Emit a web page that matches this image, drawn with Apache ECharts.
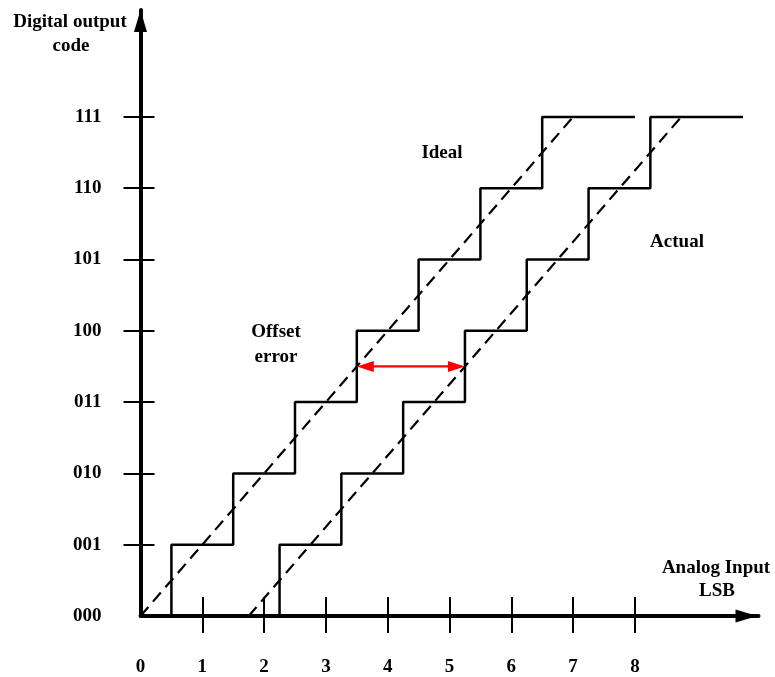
<!DOCTYPE html>
<html>
<head>
<meta charset="utf-8">
<script src="https://cdn.jsdelivr.net/npm/echarts@6/dist/echarts.min.js"></script>
<style>html,body{margin:0;padding:0;background:#fff}#c{width:775px;height:677px}</style>
</head>
<body>
<div id="c"></div>
<script>
// ---- data ----
var codeLabels = ['000', '001', '010', '011', '100', '101', '110', '111'];
var codeValues = [0, 1, 2, 3, 4, 5, 6, 7];
var xLabelValues = [0, 1, 2, 3, 4, 5, 6, 7, 8];
var xTickValues = [1, 2, 3, 4, 5, 6, 7, 8];
var yTickValues = [1, 2, 3, 4, 5, 6, 7];
var idealSteps = [0.5, 1.5, 2.5, 3.5, 4.5, 5.5, 6.5];
var idealEnd = 8;
var actualSteps = [2.25, 3.25, 4.25, 5.25, 6.25, 7.25, 8.25];
var actualEnd = 9.75;
var idealTransfer = [[0, 0], [7, 7]];
var actualTransfer = [[1.75, 0], [8.75, 7]];
var offsetArrow = [3.5, 3.5, 5.25]; // x start, y level, x end

function staircase(steps, endX) {
  var pts = [];
  for (var i = 0; i < steps.length; i++) {
    pts.push([steps[i], i]);
    pts.push([steps[i], i + 1]);
  }
  pts.push([endX, steps.length]);
  return pts;
}

var FONT = '"Liberation Serif", "Times New Roman", serif';
var txt = function (x, y, s) {
  return { type: 'text', x: x, y: y, style: { text: s, fontFamily: FONT, fontWeight: 'bold', fontSize: 19, fill: '#000', align: 'center', verticalAlign: 'middle' } };
};

var chart = echarts.init(document.getElementById('c'));
var lineStyleAxis = { color: '#000', width: 4 };
chart.setOption({
  animation: false,
  backgroundColor: '#fff',
  grid: { left: 140.5, top: 10, width: 618, bottom: 61, containLabel: false },
  xAxis: [
    {
      type: 'value', min: 0, max: 10, interval: 1, position: 'bottom',
      axisLine: { show: true, onZero: false, lineStyle: lineStyleAxis, symbol: ['none', 'triangle'], symbolSize: [13, 22], symbolOffset: [0, -12] },
      axisTick: { show: true, inside: false, length: 17, lineStyle: { color: '#000', width: 2 }, customValues: xTickValues },
      axisLabel: { show: true, margin: 42, fontFamily: FONT, fontWeight: 'bold', fontSize: 19, color: '#000', customValues: xLabelValues },
      splitLine: { show: false }
    },
    {
      type: 'value', min: 0, max: 10, interval: 1, position: 'bottom',
      axisLine: { show: false, onZero: false },
      axisTick: { show: true, inside: true, length: 19, lineStyle: { color: '#000', width: 2 }, customValues: xTickValues },
      axisLabel: { show: false },
      splitLine: { show: false }
    }
  ],
  yAxis: [
    {
      type: 'value', min: 0, max: 8.5, interval: 0.5, position: 'left',
      axisLine: { show: true, onZero: false, lineStyle: lineStyleAxis, symbol: ['none', 'triangle'], symbolSize: [13, 22], symbolOffset: [0, -11] },
      axisTick: { show: true, inside: false, length: 17, lineStyle: { color: '#000', width: 2 }, customValues: yTickValues },
      axisLabel: {
        show: true, margin: 39, fontFamily: FONT, fontWeight: 'bold', fontSize: 19, color: '#000',
        customValues: codeValues,
        formatter: function (v) { return codeLabels[Math.round(v)]; }
      },
      splitLine: { show: false }
    },
    {
      type: 'value', min: 0, max: 8.5, interval: 0.5, position: 'left',
      axisLine: { show: false, onZero: false },
      axisTick: { show: true, inside: true, length: 14, lineStyle: { color: '#000', width: 2 }, customValues: yTickValues },
      axisLabel: { show: false },
      splitLine: { show: false }
    }
  ],
  series: [
    { type: 'line', name: 'Ideal', data: staircase(idealSteps, idealEnd), symbol: 'none', lineStyle: { color: '#000', width: 2.5 }, z: 3 },
    { type: 'line', name: 'Actual', data: staircase(actualSteps, actualEnd), symbol: 'none', lineStyle: { color: '#000', width: 2.5 }, z: 3 },
    { type: 'line', name: 'IdealTransfer', data: idealTransfer, symbol: 'none', lineStyle: { color: '#000', width: 2.2, type: [12, 7] }, z: 2 },
    { type: 'line', name: 'ActualTransfer', data: actualTransfer, symbol: 'none', lineStyle: { color: '#000', width: 2.2, type: [12, 7] }, z: 2 },
    {
      type: 'custom', z: 5,
      encode: { x: [0, 2], y: 1 },
      data: [offsetArrow],
      renderItem: function (params, api) {
        var p1 = api.coord([api.value(0), api.value(1)]);
        var p2 = api.coord([api.value(2), api.value(1)]);
        var L = 17, H = 5.5, y = p1[1];
        var red = '#ff0000';
        return {
          type: 'group',
          children: [
            { type: 'line', shape: { x1: p1[0] + L - 2, y1: y, x2: p2[0] - L + 2, y2: y }, style: { stroke: red, lineWidth: 2.2 } },
            { type: 'polygon', shape: { points: [[p1[0], y], [p1[0] + L, y - H], [p1[0] + L, y + H]] }, style: { fill: red } },
            { type: 'polygon', shape: { points: [[p2[0], y], [p2[0] - L, y - H], [p2[0] - L, y + H]] }, style: { fill: red } }
          ]
        };
      }
    }
  ],
  graphic: [
    txt(70, 22, 'Digital output'),
    txt(71, 46, 'code'),
    txt(716, 568, 'Analog Input'),
    txt(717, 591, 'LSB'),
    txt(442, 153, 'Ideal'),
    txt(677, 242, 'Actual'),
    txt(276, 332, 'Offset'),
    txt(276, 357, 'error')
  ]
});
</script>
</body>
</html>
